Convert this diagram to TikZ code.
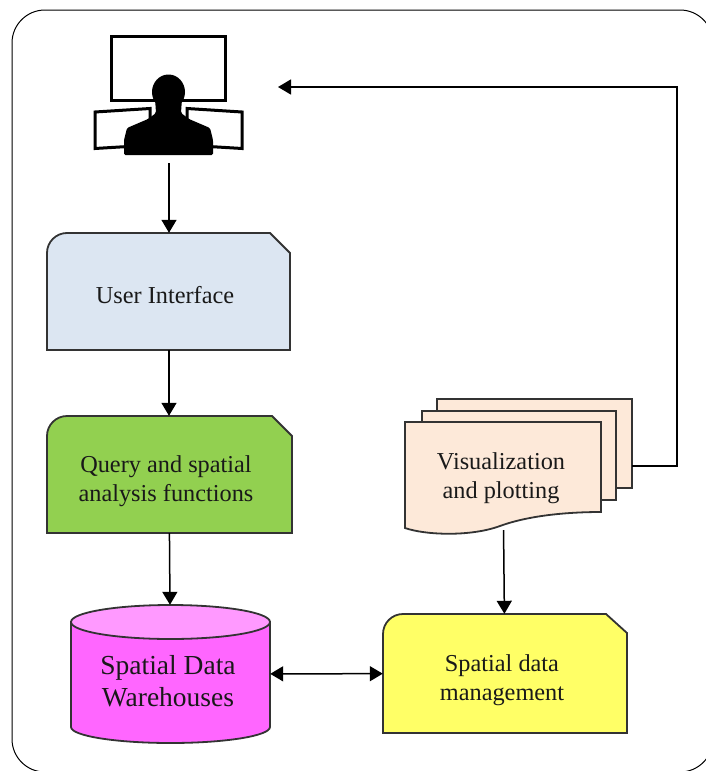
\documentclass[tikz,border=0pt]{standalone}
\usepackage{fontspec}
\setmainfont{Liberation Serif}
\usetikzlibrary{arrows.meta}
\definecolor{uifill}{HTML}{DCE6F2}
\definecolor{queryfill}{HTML}{92D050}
\definecolor{yellowfill}{HTML}{FFFF66}
\definecolor{sheetfill}{HTML}{FDE9D9}
\definecolor{dbfill}{HTML}{FF66FF}
\definecolor{dbtop}{HTML}{FF99FF}
\definecolor{edgegray}{HTML}{333333}
\tikzset{
  card/.style={draw=edgegray, line width=1.8pt},
  label/.style={inner sep=0pt, align=center, text=black!90,
    font=\fontsize{24.3}{29}\selectfont},
  link/.style={->, line width=1.5pt},
}
\begin{document}
\begin{tikzpicture}[x=1pt, y=-1pt, >={Triangle[length=13pt,width=15pt]}]
  \clip (0,0) rectangle (706,771);
  \draw[line width=1pt, rounded corners=33pt] (12,772) rectangle (713,10);

  \draw[line width=3pt] (111.5,36.5) rectangle (225.5,100.5);
  \draw[line width=3pt] (150,120) -- (150,108.5) -- (95,112) -- (95,148.5) -- (128,146.5);
  \draw[line width=3pt] (187,120) -- (187,108.5) -- (242,112) -- (242,148.5) -- (209,146.5);
  \fill[white] (153,102) rectangle (184,120);
  \fill (168.5,92) ellipse [x radius=16.5pt, y radius=17.5pt];
  \fill[rounded corners=1.5pt] (124,155) -- (124,140) -- (127,128) -- (148,119) -- (156,113)
    -- (155,98) -- (182,98) -- (181,113) -- (189,119) -- (210,128) -- (213,140) -- (213,155) -- cycle;
  \node[minimum width=149pt, minimum height=128pt, inner sep=0pt] (user) at (169,99) {};

  \draw[card, fill=uifill] (47,350) [rounded corners=20pt] -- (47,233) [sharp corners]
    -- (270,233) -- (290,253) -- (290,350) -- cycle;
  \node[label, minimum width=243pt, minimum height=117pt] (ui) at (169,291.5) {};
  \node[label] at (165,295) {User Interface};

  \draw[card, fill=queryfill] (47,533) [rounded corners=20pt] -- (47,416) [sharp corners]
    -- (272,416) -- (292,436) -- (292,533) -- cycle;
  \node[label, minimum width=243pt, minimum height=117pt] (query) at (169,474.5) {};
  \node[label] at (166,481) {Query and spatial\\analysis functions};

  \draw[card, fill=yellowfill] (383,733) [rounded corners=20pt] -- (383,614) [sharp corners]
    -- (606,614) -- (627,633) -- (627,733) -- cycle;
  \node[label, minimum width=244pt, minimum height=119pt] (manage) at (505,673.5) {};
  \node[label] at (502,680.5) {Spatial data\\management};

  \draw[card, fill=sheetfill] (437,399) rectangle (632,488);
  \draw[card, fill=sheetfill] (422,411) rectangle (616,500);
  \draw[card, fill=sheetfill] (405,528) -- (405,422) -- (601,422) -- (601,512)
    .. controls (570,512) and (530,515) .. (500,526)
    .. controls (470,537) and (425,535) .. (405,528) -- cycle;
  \node[label, minimum width=196pt, minimum height=108pt] (plot) at (503,476) {};
  \node[label] at (501,478.5) {Visualization\\and plotting};

  \draw[card, fill=dbfill] (71,622) -- (71,727)
    arc[start angle=180, end angle=360, x radius=99.5pt, y radius=16pt] -- (270,622) -- cycle;
  \draw[card, fill=dbtop] (170.5,622) ellipse [x radius=99.5pt, y radius=17pt];
  \node[label, minimum width=199pt, minimum height=138pt] (dwh) at (170.5,674) {};
  \node[label, font=\fontsize{27.5}{32}\selectfont] at (168,681) {Spatial Data\\Warehouses};

  \coordinate (sheetout) at (632,466);
  \coordinate (userin) at (278,87);

  \draw[link] (user) -- (ui);
  \draw[link] (ui) -- (query);
  \draw[link] (query) -- (dwh);
  \draw[link] (plot) -- (manage);
  \draw[link, <->] (dwh) -- (manage);
  \draw[link] (sheetout) -- (677,466) -- (677,87) -- (userin);
\end{tikzpicture}
\end{document}
